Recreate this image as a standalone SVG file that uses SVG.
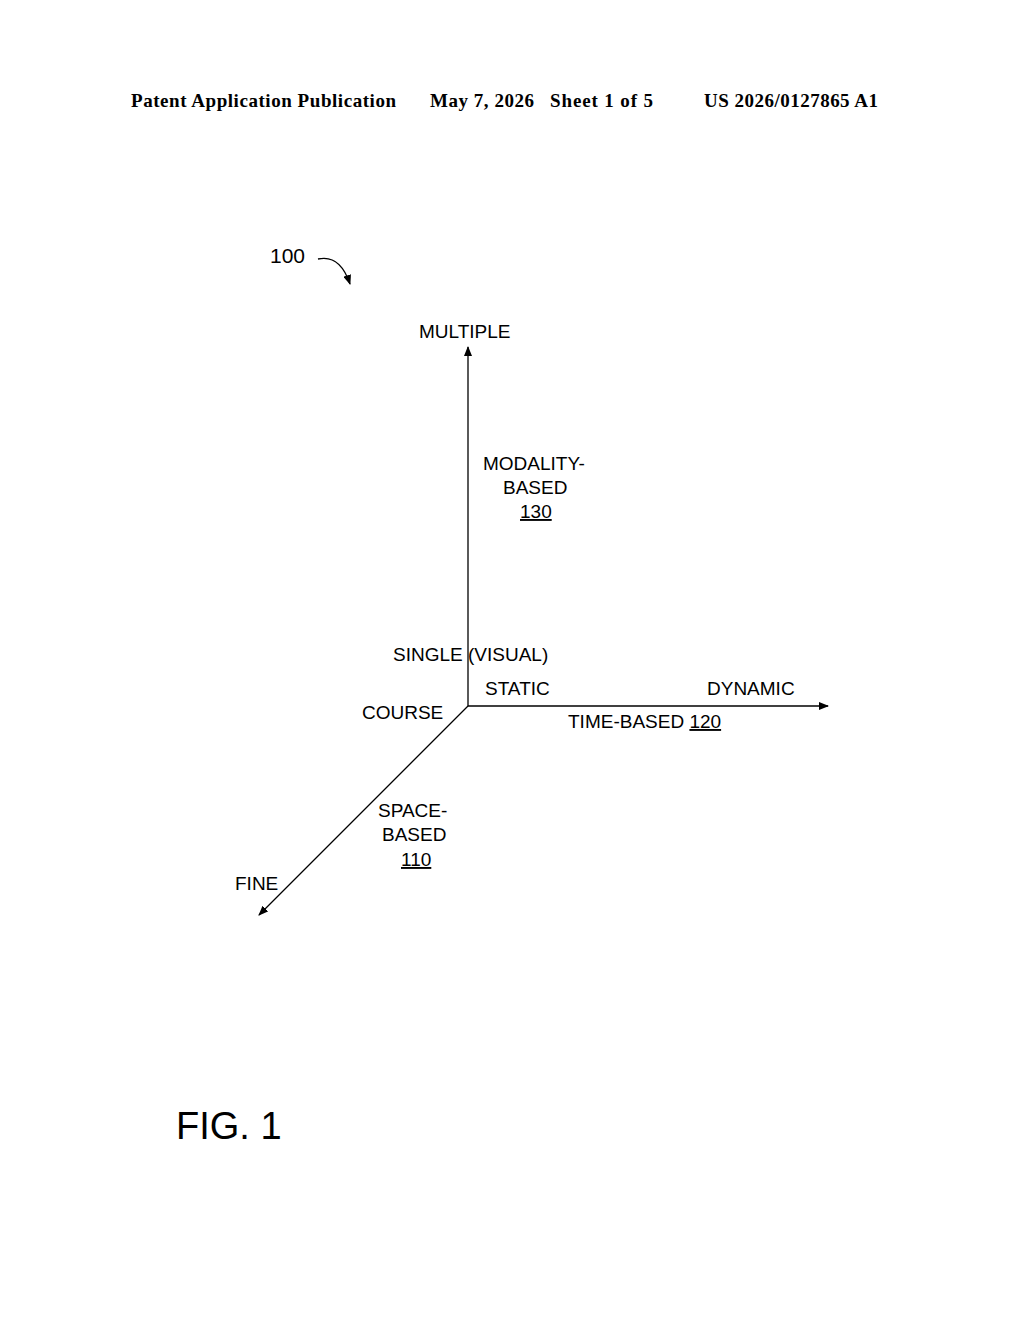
<svg xmlns="http://www.w3.org/2000/svg" width="1024" height="1320" viewBox="0 0 1024 1320">
<style>
.h{font-family:"Liberation Serif",serif;font-weight:bold;font-size:19px}
.t{font-family:"Liberation Sans",Arial,sans-serif;font-size:19px}
.ax{stroke:#000;stroke-width:1.3;fill:none}
</style>
<defs><marker id="a" markerWidth="10" markerHeight="8" refX="9" refY="4" orient="auto" markerUnits="userSpaceOnUse"><path d="M0,0 L10,4 L0,8 Z" fill="#000"/></marker></defs>
<rect width="1024" height="1320" fill="#fff"/>
<text class="h" x="131" y="107" textLength="265">Patent Application Publication</text>
<text class="h" x="430" y="107" textLength="104">May 7, 2026</text>
<text class="h" x="550" y="107" textLength="103">Sheet 1 of 5</text>
<text class="h" x="704" y="107" textLength="174">US 2026/0127865 A1</text>
<g id="ref100"><text class="t" x="270" y="263" style="font-size:21px">100</text>
<path class="ax" d="M318,259 Q340,254 350,284" marker-end="url(#a)"/></g>
<g id="connectors">
<line class="ax" x1="468" y1="706" x2="468" y2="347" marker-end="url(#a)"/>
<line class="ax" x1="468" y1="706" x2="828" y2="706" marker-end="url(#a)"/>
<line class="ax" x1="468" y1="706" x2="259" y2="915" marker-end="url(#a)"/>
</g>
<g id="n130"><text class="t" x="419" y="338">MULTIPLE</text>
<text class="t" x="483" y="470">MODALITY-</text><text class="t" x="503" y="494">BASED</text>
<text class="t" x="520" y="518" text-decoration="underline">130</text>
<text class="t" x="393" y="661">SINGLE (VISUAL)</text></g>
<g id="n120"><text class="t" x="485" y="695">STATIC</text><text class="t" x="707" y="695">DYNAMIC</text>
<text class="t" x="568" y="728">TIME-BASED <tspan text-decoration="underline">120</tspan></text></g>
<g id="n110"><text class="t" x="362" y="719">COURSE</text>
<text class="t" x="378" y="817">SPACE-</text><text class="t" x="382" y="841">BASED</text>
<text class="t" x="401" y="866" text-decoration="underline">110</text>
<text class="t" x="235" y="890">FINE</text></g>
<text class="t" x="176" y="1139" style="font-size:38px">FIG. 1</text>
</svg>
